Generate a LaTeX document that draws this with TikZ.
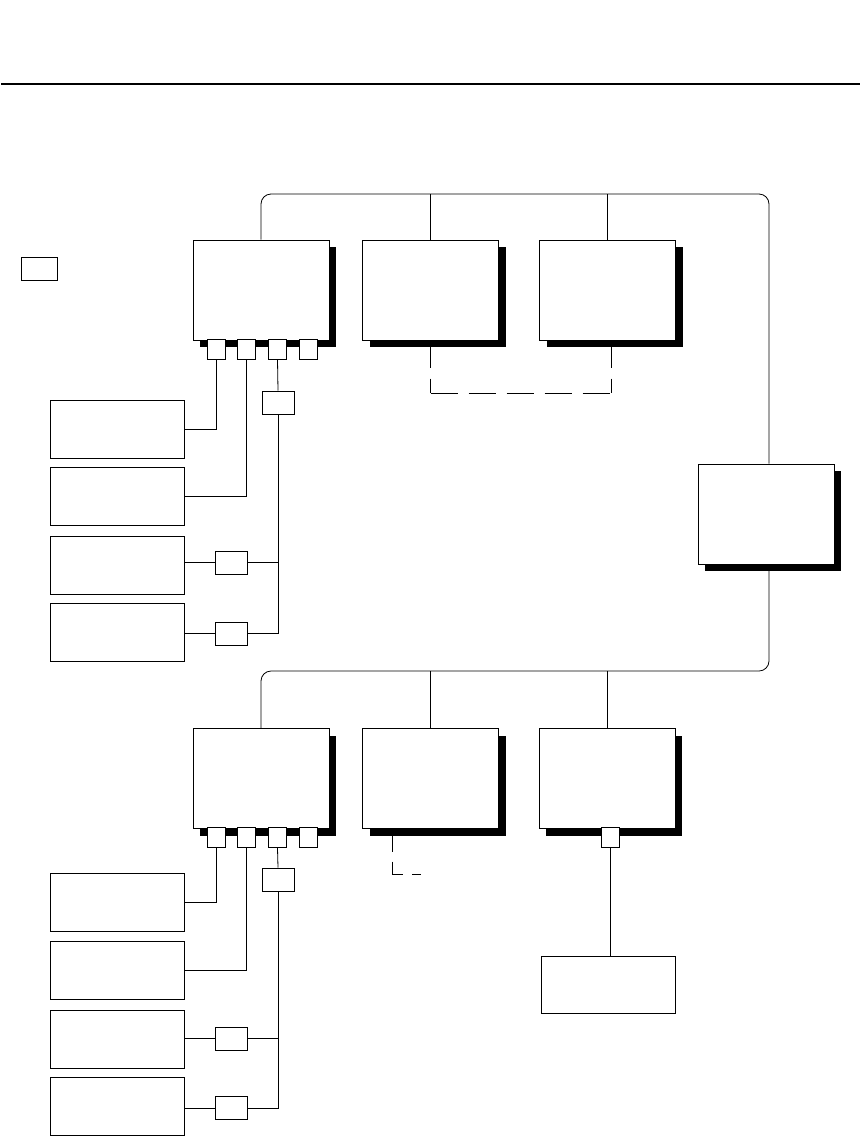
\documentclass[tikz,border=0pt]{standalone}
\usetikzlibrary{shadows}

\begin{document}
\begin{tikzpicture}[
  x=1pt, y=-1pt,
  % --- shared block base ---
  blkbase/.style={draw, line width=1pt, fill=white, inner sep=0pt},
  % --- block types ---
  unit/.style={blkbase, minimum width=136pt, minimum height=100pt,
    drop shadow={shadow xshift=7pt, shadow yshift=-7pt, fill=black, opacity=1}},
  dev/.style={blkbase, minimum width=134pt, minimum height=58pt},
  port/.style={blkbase, minimum width=18pt, minimum height=20pt},
  tap/.style={blkbase, minimum width=32pt, minimum height=23pt},
  % --- lines ---
  wire/.style={line width=0.8pt},
  bus/.style={wire, rounded corners=10pt},
  link/.style={wire, dash pattern=on 27pt off 11pt},
  linkshort/.style={wire, dash pattern=on 23pt off 9.5pt},
]

\useasboundingbox (0,0) rectangle (861,1136);

% ===================== HEADER =====================

\coordinate (ruleL) at (1,84);
\coordinate (ruleR) at (860,84);
\draw[line width=2pt] (ruleL) -- (ruleR);

\node[tap, minimum width=36pt] (key) at (39,268.5) {};

% ===================== UPPER GROUP =====================

\node[unit] (ctrlA) at (261,290) {};
\node[unit] (memA) at (430.5,290) {};
\node[unit] (auxA) at (607.5,290) {};

\node[port] (pA1) at (216,349) {};
\node[port] (pA2) at (246,349) {};
\node[port] (pA3) at (277.5,349) {};
\node[port] (pA4) at (308,349) {};

\node[tap] (tapA) at (278,402.5) {};

\node[dev] (devA1) at (117,429) {};
\node[dev] (devA2) at (117,496) {};
\node[dev] (devA3) at (117,565) {};
\node[dev] (devA4) at (117,632) {};

\node[tap] (tA3) at (231,562.5) {};
\node[tap] (tA4) at (231,633.5) {};

% ===================== HUB =====================

\node[unit] (hub) at (766,514) {};
\coordinate (hubT) at ([xshift=3pt]hub.north);
\coordinate (hubB) at ([xshift=3pt]hub.south);

% ===================== LOWER GROUP =====================

\node[unit] (ctrlB) at (261,778.5) {};
\node[unit] (memB) at (430.5,778.5) {};
\node[unit] (auxB) at (607,778.5) {};

\node[port] (pB1) at (216,837.5) {};
\node[port] (pB2) at (246,837.5) {};
\node[port] (pB3) at (277.5,837.5) {};
\node[port] (pB4) at (308,837.5) {};
\node[port] (pC) at (610.5,837.5) {};

\node[tap] (tapB) at (278,879.5) {};

\node[dev] (devB1) at (117,902.5) {};
\node[dev] (devB2) at (117,970) {};
\node[dev] (devB3) at (117,1039) {};
\node[dev] (devB4) at (117,1106) {};

\node[tap] (tB3) at (231,1038.5) {};
\node[tap] (tB4) at (231,1108) {};

\node[dev, minimum height=57pt] (ext) at (608,984.5) {};

% ===================== BUS =====================

\coordinate (busT) at (0,194);
\coordinate (busB) at (0,671);

\draw[bus] (ctrlA.north) |- (hubT |- busT) -- (hubT);
\draw[wire] (memA.north |- busT) -- (memA.north);
\draw[wire] (auxA.north |- busT) -- (auxA.north);

\draw[bus] (hubB) -- (hubB |- busB) -| (ctrlB.north);
\draw[wire] (memB.north |- busB) -- (memB.north);
\draw[wire] (auxB.north |- busB) -- (auxB.north);

% ===================== UPPER WIRING =====================

\draw[wire] (pA1.south) |- (devA1.east);
\draw[wire] (pA2.south) |- (devA2.east);
\draw[wire] (pA3.south) -- (tapA.north);
\draw[wire] (tapA.south) |- (tA4.east);
\draw[wire] (tA3.east) -- (tA3.east -| tapA.south);
\draw[wire] (tA3.west -| devA3.east) -- (tA3.west);
\draw[wire] (tA4.west -| devA4.east) -- (tA4.west);

% memory link (dashed)
\coordinate (dsh) at (0,393);
\coordinate (auxAd) at ([xshift=4pt]auxA.south);
\draw[link] (memA.south) -- (memA.south |- dsh);
\draw[link] (memA.south |- dsh) -- (auxAd |- dsh);
\draw[link] (auxAd) -- (auxAd |- dsh);

% ===================== LOWER WIRING =====================

\draw[wire] (pB1.south) |- (devB1.east);
\draw[wire] (pB2.south) |- (devB2.east);
\draw[wire] (pB3.south) -- (tapB.north);
\draw[wire] (tapB.south) |- (tB4.east);
\draw[wire] (tB3.east) -- (tB3.east -| tapB.south);
\draw[wire] (tB3.west -| devB3.east) -- (tB3.west);
\draw[wire] (tB4.west -| devB4.east) -- (tB4.west);

\draw[wire] (pC.south) -- (pC.south |- ext.north);

% stub link (dashed)
\draw[linkshort] ([xshift=-38.5pt]memB.south) |- ++(29,45);

\end{tikzpicture}
\end{document}
